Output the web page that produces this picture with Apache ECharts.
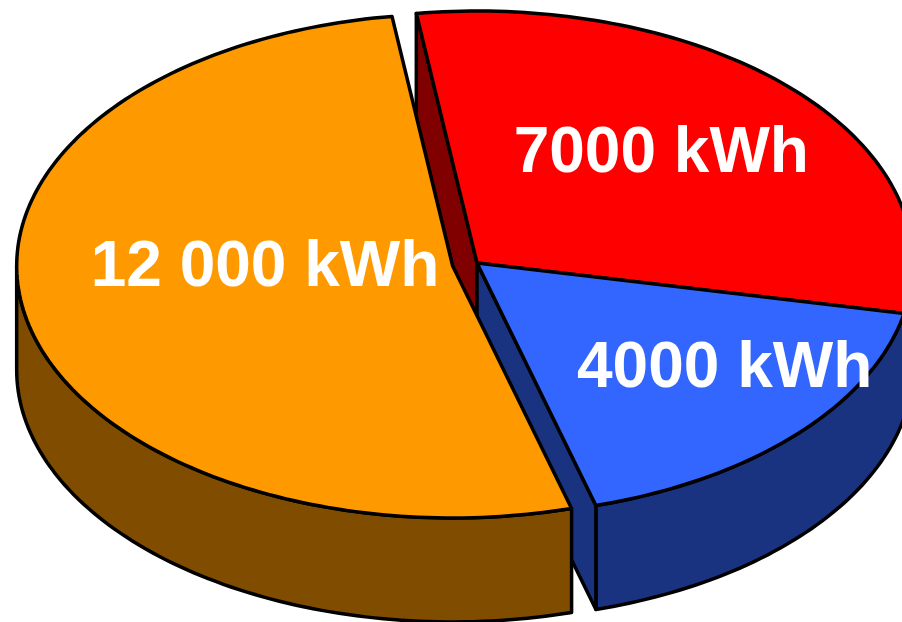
<!DOCTYPE html>
<html>
<head>
<meta charset="utf-8">
<script src="https://cdn.jsdelivr.net/npm/echarts@6/dist/echarts.min.js"></script>
<style>
  html, body { margin: 0; padding: 0; background: #ffffff; }
  #chart { width: 902px; height: 622px; }
</style>
</head>
<body>
<div id="chart"></div>
<script>
// Energy consumption split (kWh)
const sliceLabels = ['7000 kWh', '4000 kWh', '12 000 kWh'];
const sliceValues = [7000, 4000, 12000];

// Face colours: top face and darker side walls
const topColors  = ['#FF0000', '#3366FF', '#FF9900'];
const sideColors = ['#800000', '#1A3380', '#7F4C00'];

// Pie geometry (oblique view of a disc)
const geo = {
  cx: 477, cy: 263,      // centre of the top face
  rx: 436, ry: 252,      // projected radii
  depth: 104,            // visible thickness of the disc
  startAngle: 98,        // degrees, slices run clockwise
  explode: [0, 0, 0.057] // pulled-out fraction of radius per slice
};
// Label anchor along each slice's mid direction, as fractions of rx / ry
const labelAnchor = [[0.58, 0.64], [0.775, 0.61], [0.44, 0.0]];

const total = sliceValues.reduce((s, v) => s + v, 0);
const rad = d => d * Math.PI / 180;

function renderItem(params, api) {
  const i = params.dataIndex;
  const value = api.value(0);
  let before = 0;
  for (let k = 0; k < i; k++) before += sliceValues[k];
  const t0 = geo.startAngle - before / total * 360;
  const t1 = t0 - value / total * 360;
  const mid = rad((t0 + t1) / 2);
  const ox = geo.rx * geo.explode[i] * Math.cos(mid);
  const oy = -geo.ry * geo.explode[i] * Math.sin(mid);
  const cx = geo.cx + ox, cy = geo.cy + oy;

  const pt = (deg, dz) => [cx + geo.rx * Math.cos(rad(deg)), cy - geo.ry * Math.sin(rad(deg)) + (dz || 0)];
  const arc = (from, to, dz) => {
    const n = Math.max(2, Math.ceil(Math.abs(from - to) / 1.2));
    const pts = [];
    for (let k = 0; k <= n; k++) pts.push(pt(from + (to - from) * k / n, dz));
    return pts;
  };

  const edge = { stroke: '#000000', lineWidth: 3.5, lineJoin: 'round' };
  const wallZ = geo.explode[i] > 0 ? 2 : 1;
  const children = [];

  // Outer curved wall: only the near half of the rim (sin < 0) faces the viewer
  for (let k = -1; k <= 1; k++) {
    const lo = Math.max(t1, -180 + 360 * k);
    const hi = Math.min(t0, 360 * k);
    if (hi > lo) {
      children.push({
        type: 'polygon', z2: wallZ,
        shape: { points: arc(hi, lo, 0).concat(arc(lo, hi, geo.depth)) },
        style: Object.assign({ fill: sideColors[i] }, edge)
      });
    }
  }

  // Radial cut walls that face the viewer
  const radialWall = deg => ({
    type: 'polygon', z2: wallZ,
    shape: { points: [[cx, cy], pt(deg, 0), pt(deg, geo.depth), [cx, cy + geo.depth]] },
    style: Object.assign({ fill: sideColors[i] }, edge)
  });
  if (Math.cos(rad(t0)) < 0) children.push(radialWall(t0));
  if (Math.cos(rad(t1)) > 0) children.push(radialWall(t1));

  // Top face
  children.push({
    type: 'polygon', z2: 3,
    shape: { points: [[cx, cy]].concat(arc(t0, t1, 0)) },
    style: Object.assign({ fill: topColors[i] }, edge)
  });

  // Value label
  const la = labelAnchor[i];
  children.push({
    type: 'text', z2: 4,
    x: cx + geo.rx * la[0] * Math.cos(mid),
    y: cy - geo.ry * la[1] * Math.sin(mid) + 2,
    style: {
      text: sliceLabels[i],
      fill: '#ffffff',
      font: 'bold 64px "Liberation Sans", Arial, sans-serif',
      align: 'center',
      verticalAlign: 'middle'
    }
  });

  return { type: 'group', children: children };
}

const chart = echarts.init(document.getElementById('chart'), null, { renderer: 'canvas' });
chart.setOption({
  backgroundColor: '#ffffff',
  animation: false,
  series: [{
    type: 'custom',
    coordinateSystem: 'none',
    silent: true,
    renderItem: renderItem,
    data: sliceValues.map((v, k) => ({ name: sliceLabels[k], value: [v] }))
  }]
});
</script>
</body>
</html>
